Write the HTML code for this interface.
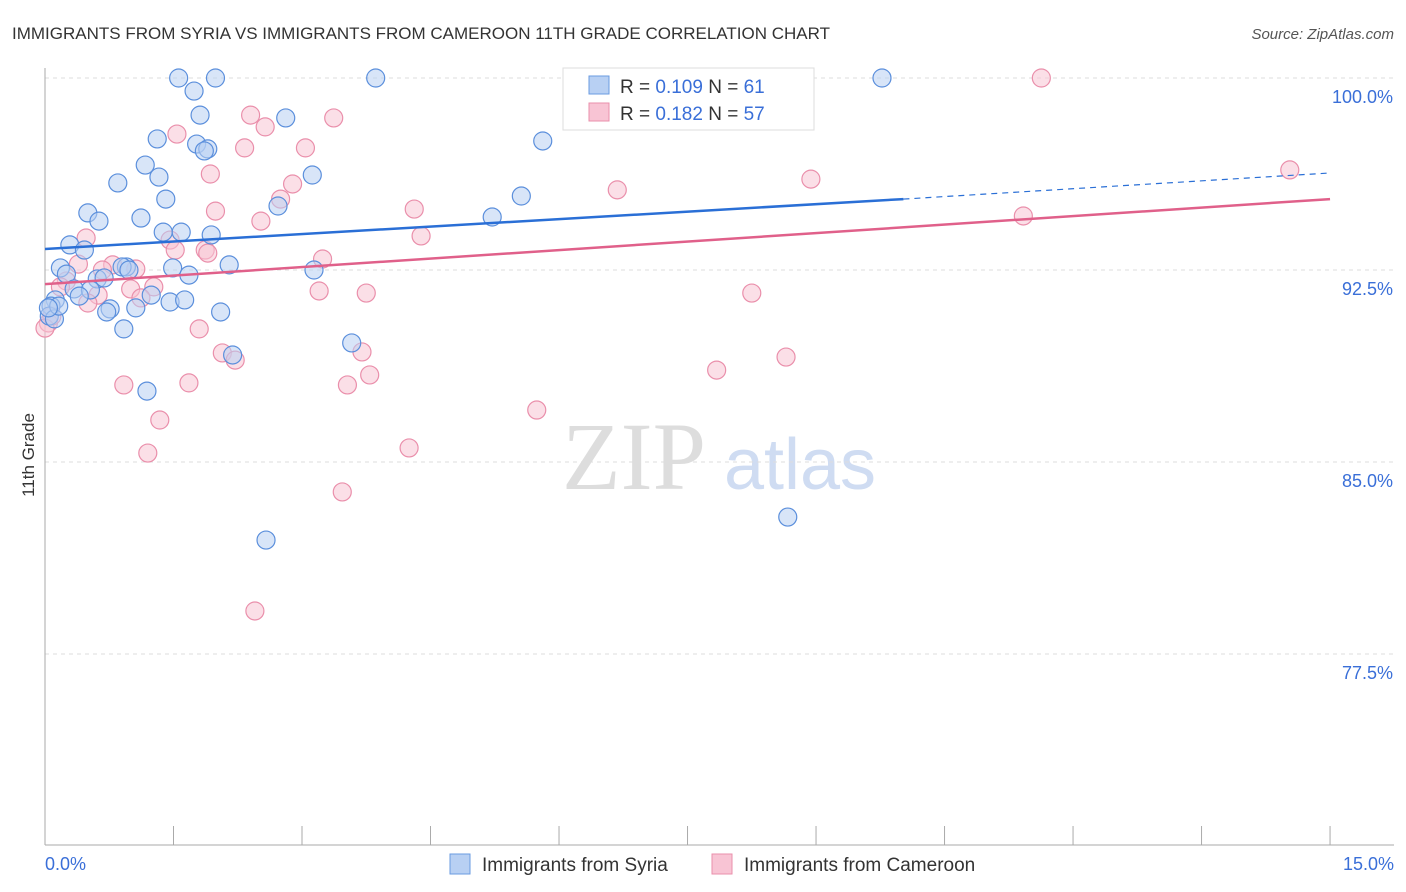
<!DOCTYPE html>
<html><head><meta charset="utf-8"><style>
body{margin:0;background:#fff;font-family:"Liberation Sans",sans-serif}
svg{display:block}
</style></head><body>
<svg width="1406" height="892" id="c">
<text x="12" y="39" font-size="17" fill="#333">IMMIGRANTS FROM SYRIA VS IMMIGRANTS FROM CAMEROON 11TH GRADE CORRELATION CHART</text>
<text x="1394" y="39" font-size="15" fill="#555" font-style="italic" text-anchor="end">Source: ZipAtlas.com</text>
<text x="634" y="489" font-size="96" fill="#ddd" font-family="Liberation Serif" text-anchor="middle">ZIP</text>
<text x="800" y="489" font-size="72" fill="#cfdcf2" text-anchor="middle">atlas</text>
<text transform="translate(34,455) rotate(-90)" font-size="17" fill="#333" text-anchor="middle">11th Grade</text>
<g id="grid"></g><g id="pts"></g><g id="lines"></g>
<g>
<rect x="563" y="68" width="251" height="62" fill="#fff" stroke="#ddd"/>
<rect x="589" y="76" width="20" height="18" fill="#b8d0f3" stroke="#6a9be0"/>
<rect x="589" y="103" width="20" height="18" fill="#f8c4d4" stroke="#ea8fab"/>
<text x="620" y="93" font-size="19" fill="#333">R = <tspan fill="#3a6fd8">0.109</tspan>   N =  <tspan fill="#3a6fd8">61</tspan></text>
<text x="620" y="120" font-size="19" fill="#333">R =  <tspan fill="#3a6fd8">0.182</tspan>   N = <tspan fill="#3a6fd8">57</tspan></text>
</g>
<g>
<rect x="450" y="854" width="20" height="20" fill="#b8d0f3" stroke="#6a9be0"/>
<text x="482" y="871" font-size="19" fill="#333">Immigrants from Syria</text>
<rect x="712" y="854" width="20" height="20" fill="#f8c4d4" stroke="#ea8fab"/>
<text x="744" y="871" font-size="19" fill="#333">Immigrants from Cameroon</text>
</g>
<text x="45" y="870" font-size="18" fill="#3a6fd8">0.0%</text>
<text x="1394" y="870" font-size="18" fill="#3a6fd8" text-anchor="end">15.0%</text>
</svg>
<script>
const yTicks=[100,92.5,85,77.5];
const yTickLabels=["100.0%","92.5%","85.0%","77.5%"];
const xTicks=[0,1.5,3,4.5,6,7.5,9,10.5,12,13.5,15];
const syriaX=[1.56,1.99,3.86,9.77,1.74,1.81,2.81,1.31,1.77,1.90,1.86,1.17,1.33,3.12,0.85,1.41,2.72,5.56,5.22,0.50,1.12,0.63,1.38,1.59,1.94,0.29,0.46,2.15,1.49,0.95,0.18,0.90,0.98,3.14,1.68,0.61,0.69,0.25,0.34,0.53,0.40,1.24,1.46,1.63,0.12,0.07,0.76,1.06,2.05,0.72,0.92,3.58,2.19,1.19,2.58,8.67,5.81,0.05,0.11,0.16,0.04];
const syriaY=[100,100,100,100,99.49,98.55,98.44,97.62,97.42,97.23,97.15,96.60,96.13,96.21,95.90,95.27,95.0,95.39,94.57,94.73,94.53,94.41,93.98,93.98,93.87,93.48,93.28,92.70,92.58,92.62,92.58,92.62,92.50,92.50,92.30,92.15,92.19,92.34,91.76,91.72,91.48,91.52,91.25,91.33,91.33,91.09,90.98,91.02,90.86,90.86,90.20,89.65,89.18,87.77,81.95,82.85,97.54,90.70,90.59,91.09,91.02];
const camX=[11.63,2.40,2.57,3.37,1.54,3.04,2.33,14.53,1.93,8.94,2.89,6.68,2.75,1.99,4.31,2.52,11.42,4.39,1.46,0.48,1.52,1.87,1.90,3.24,0.39,0.79,1.06,0.67,0.25,1.27,1.00,0.18,8.25,3.20,3.75,0.62,1.12,1.80,2.07,2.22,3.70,7.84,8.65,3.79,0.92,1.68,3.53,5.74,1.34,1.20,4.25,3.47,2.45,0.04,0.08,0.50,0];
const camY=[100,98.55,98.09,98.44,97.81,97.27,97.27,96.41,96.25,96.05,95.86,95.63,95.27,94.80,94.88,94.41,94.61,93.83,93.67,93.75,93.28,93.28,93.16,92.93,92.73,92.70,92.54,92.50,92.07,91.84,91.76,91.84,91.60,91.68,91.60,91.52,91.41,90.20,89.26,88.98,89.30,88.59,89.10,88.40,88.01,88.09,88.01,87.03,86.64,85.35,85.55,83.83,79.18,90.43,90.70,91.21,90.23];
const syriaTrend=[[0,93.32],[10.02,95.27],[15,96.29]];
const camTrend=[[0,91.95],[15,95.27]];
const X=v=>45+v*85.67, Y=v=>78+(100-v)*25.6;
const NS="http://www.w3.org/2000/svg";
function mk(t,a,p){const e=document.createElementNS(NS,t);for(const k in a)e.setAttribute(k,a[k]);p.appendChild(e);return e;}
const g=document.getElementById('grid');
yTicks.forEach((t,i)=>{
 const l=mk('line',{x1:45,x2:1394,y1:Y(t),y2:Y(t),stroke:'#ddd','stroke-dasharray':'4,4'},g);
 
 
 const tx=mk('text',{x:1393,y:Y(t)+25,'font-size':18,fill:'#3a6fd8','text-anchor':'end'},g);
 tx.textContent=yTickLabels[i];
 
 
});
const ax=mk('line',{x1:45,x2:45,y1:68,y2:845,stroke:'#aaa'},g);


const bx=mk('line',{x1:45,x2:1394,y1:845,y2:845,stroke:'#aaa'},g);


xTicks.forEach(t=>{
 const l=mk('line',{x1:X(t),x2:X(t),y1:826,y2:845,stroke:'#aaa'},g);
 
 
});
const p=document.getElementById('pts');
function pts(xs,ys,fill,stroke,name){xs.forEach((x,i)=>{
 const c=mk('circle',{cx:X(x),cy:Y(ys[i]),r:9,fill:fill,'fill-opacity':0.55,stroke:stroke,'stroke-width':1.2},p);
 
 
});}
pts(camX,camY,'#f8c4d4','#ea8fab','point-cameroon');
pts(syriaX,syriaY,'#b8d0f3','#5b8fdc','point-syria');
const L=document.getElementById('lines');
const s1=mk('line',{x1:X(syriaTrend[0][0]),y1:Y(syriaTrend[0][1]),x2:X(syriaTrend[1][0]),y2:Y(syriaTrend[1][1]),stroke:'#2a6fd6','stroke-width':2.5},L);


const s2=mk('line',{x1:X(syriaTrend[1][0]),y1:Y(syriaTrend[1][1]),x2:X(syriaTrend[2][0]),y2:Y(syriaTrend[2][1]),stroke:'#2a6fd6','stroke-width':1.2,'stroke-dasharray':'6,5'},L);


const c1=mk('line',{x1:X(camTrend[0][0]),y1:Y(camTrend[0][1]),x2:X(camTrend[1][0]),y2:Y(camTrend[1][1]),stroke:'#e0608a','stroke-width':2.5},L);


</script>
</body></html>
